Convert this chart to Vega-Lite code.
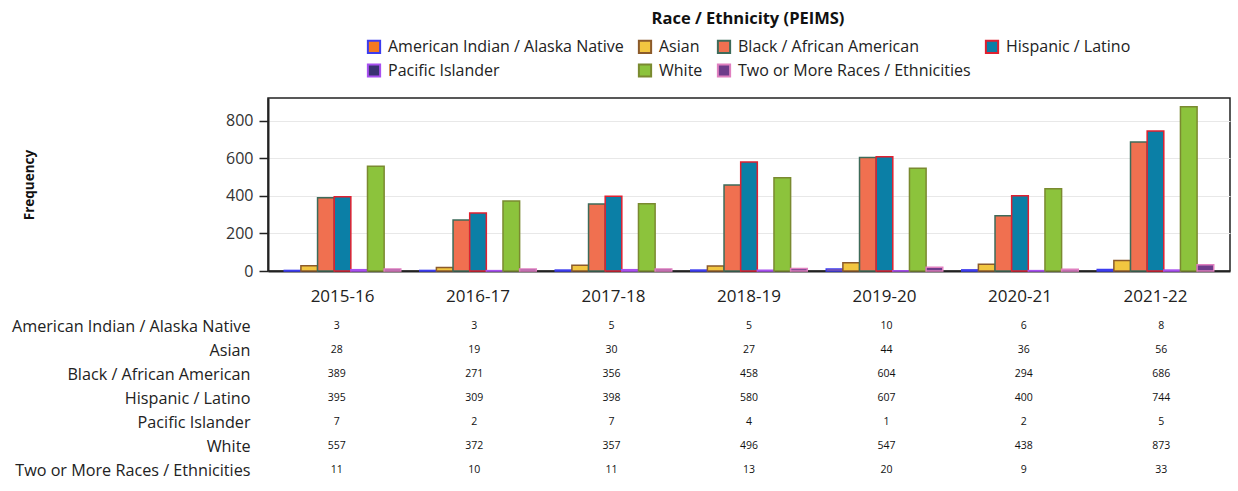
{
  "$schema": "https://vega.github.io/schema/vega-lite/v6.json",
  "padding": {"left": 11, "top": 11, "right": 6, "bottom": 5},
  "autosize": {"type": "pad"},
  "background": "white",
  "config": {
    "font": "Open Sans",
    "axis": {"labelFont": "Open Sans", "titleFont": "Open Sans"},
    "legend": {"labelFont": "Open Sans", "titleFont": "Open Sans"}
  },
  "data": {
    "values": [
      {"year": "2015-16", "race": "American Indian / Alaska Native", "value": 3},
      {"year": "2016-17", "race": "American Indian / Alaska Native", "value": 3},
      {"year": "2017-18", "race": "American Indian / Alaska Native", "value": 5},
      {"year": "2018-19", "race": "American Indian / Alaska Native", "value": 5},
      {"year": "2019-20", "race": "American Indian / Alaska Native", "value": 10},
      {"year": "2020-21", "race": "American Indian / Alaska Native", "value": 6},
      {"year": "2021-22", "race": "American Indian / Alaska Native", "value": 8},
      {"year": "2015-16", "race": "Asian", "value": 28},
      {"year": "2016-17", "race": "Asian", "value": 19},
      {"year": "2017-18", "race": "Asian", "value": 30},
      {"year": "2018-19", "race": "Asian", "value": 27},
      {"year": "2019-20", "race": "Asian", "value": 44},
      {"year": "2020-21", "race": "Asian", "value": 36},
      {"year": "2021-22", "race": "Asian", "value": 56},
      {"year": "2015-16", "race": "Black / African American", "value": 389},
      {"year": "2016-17", "race": "Black / African American", "value": 271},
      {"year": "2017-18", "race": "Black / African American", "value": 356},
      {"year": "2018-19", "race": "Black / African American", "value": 458},
      {"year": "2019-20", "race": "Black / African American", "value": 604},
      {"year": "2020-21", "race": "Black / African American", "value": 294},
      {"year": "2021-22", "race": "Black / African American", "value": 686},
      {"year": "2015-16", "race": "Hispanic / Latino", "value": 395},
      {"year": "2016-17", "race": "Hispanic / Latino", "value": 309},
      {"year": "2017-18", "race": "Hispanic / Latino", "value": 398},
      {"year": "2018-19", "race": "Hispanic / Latino", "value": 580},
      {"year": "2019-20", "race": "Hispanic / Latino", "value": 607},
      {"year": "2020-21", "race": "Hispanic / Latino", "value": 400},
      {"year": "2021-22", "race": "Hispanic / Latino", "value": 744},
      {"year": "2015-16", "race": "Pacific Islander", "value": 7},
      {"year": "2016-17", "race": "Pacific Islander", "value": 2},
      {"year": "2017-18", "race": "Pacific Islander", "value": 7},
      {"year": "2018-19", "race": "Pacific Islander", "value": 4},
      {"year": "2019-20", "race": "Pacific Islander", "value": 1},
      {"year": "2020-21", "race": "Pacific Islander", "value": 2},
      {"year": "2021-22", "race": "Pacific Islander", "value": 5},
      {"year": "2015-16", "race": "White", "value": 557},
      {"year": "2016-17", "race": "White", "value": 372},
      {"year": "2017-18", "race": "White", "value": 357},
      {"year": "2018-19", "race": "White", "value": 496},
      {"year": "2019-20", "race": "White", "value": 547},
      {"year": "2020-21", "race": "White", "value": 438},
      {"year": "2021-22", "race": "White", "value": 873},
      {"year": "2015-16", "race": "Two or More Races / Ethnicities", "value": 11},
      {"year": "2016-17", "race": "Two or More Races / Ethnicities", "value": 10},
      {"year": "2017-18", "race": "Two or More Races / Ethnicities", "value": 11},
      {"year": "2018-19", "race": "Two or More Races / Ethnicities", "value": 13},
      {"year": "2019-20", "race": "Two or More Races / Ethnicities", "value": 20},
      {"year": "2020-21", "race": "Two or More Races / Ethnicities", "value": 9},
      {"year": "2021-22", "race": "Two or More Races / Ethnicities", "value": 33}
    ]
  },
  "spacing": 9,
  "resolve": {"scale": {"x": "independent", "y": "independent"}},
  "vconcat": [
    {
      "width": 962,
      "height": 173,
      "view": {"stroke": "#222222", "strokeWidth": 1.5},
      "mark": {"type": "bar", "strokeWidth": 1.5},
      "encoding": {
        "x": {
          "field": "year",
          "type": "nominal",
          "scale": {"paddingInner": 0.14, "paddingOuter": 0.12},
          "axis": {"title": null, "labelAngle": 0, "ticks": false, "domain": true, "domainColor": "#222222", "domainWidth": 2, "labelFontSize": 17, "labelPadding": 17, "labelColor": "#222222"}
        },
        "xOffset": {
          "field": "race",
          "type": "nominal",
          "sort": ["American Indian / Alaska Native", "Asian", "Black / African American", "Hispanic / Latino", "Pacific Islander", "White", "Two or More Races / Ethnicities"],
          "scale": {"paddingInner": 0, "paddingOuter": 0}
        },
        "y": {
          "field": "value",
          "type": "quantitative",
          "scale": {"domain": [0, 920], "nice": false},
          "axis": {"title": "Frequency", "values": [0, 200, 400, 600, 800], "titleFontSize": 13.5, "titleFontWeight": "bold", "titleColor": "#111111", "titlePadding": 189, "labelFontSize": 16, "labelColor": "#333333", "labelPadding": 6, "tickColor": "#222222", "tickSize": 9, "tickWidth": 1.5, "domainColor": "#222222", "domainWidth": 2, "gridColor": "#e8e8e8", "gridWidth": 1}
        },
        "fill": {
          "field": "race",
          "type": "nominal",
          "scale": {
            "domain": ["American Indian / Alaska Native", "Asian", "Black / African American", "Hispanic / Latino", "Pacific Islander", "White", "Two or More Races / Ethnicities"],
            "range": ["#f47920", "#f2c640", "#f07050", "#0b7fa6", "#3a3272", "#8cc33c", "#6e3c8a"]
          },
          "legend": {"title": "Race / Ethnicity (PEIMS)", "orient": "none", "legendX": 98, "legendY": -87, "direction": "horizontal", "columns": 4, "symbolType": "square", "symbolSize": 150, "symbolStrokeWidth": 2, "labelFontSize": 16, "labelColor": "#222222", "titleFontSize": 16.5, "titleFontWeight": "bold", "titleColor": "#111111", "titleAnchor": "middle", "titleLimit": 500, "titlePadding": 11, "rowPadding": 2, "columnPadding": 10, "labelOffset": 6, "labelLimit": 400}
        },
        "stroke": {
          "field": "race",
          "type": "nominal",
          "scale": {
            "domain": ["American Indian / Alaska Native", "Asian", "Black / African American", "Hispanic / Latino", "Pacific Islander", "White", "Two or More Races / Ethnicities"],
            "range": ["#3c3cf0", "#8b5a2b", "#3d6b5a", "#e02030", "#a850f0", "#7a8a30", "#e080c0"]
          },
          "legend": {"title": "Race / Ethnicity (PEIMS)", "orient": "none", "legendX": 98, "legendY": -87, "direction": "horizontal", "columns": 4, "symbolType": "square", "symbolSize": 150, "symbolStrokeWidth": 2, "labelFontSize": 16, "labelColor": "#222222", "titleFontSize": 16.5, "titleFontWeight": "bold", "titleColor": "#111111", "titleAnchor": "middle", "titleLimit": 500, "titlePadding": 11, "rowPadding": 2, "columnPadding": 10, "labelOffset": 6, "labelLimit": 400}
        }
      }
    },
    {
      "width": 962,
      "height": 168,
      "view": {"stroke": null},
      "mark": {"type": "text", "fontSize": 10.5, "color": "#111111"},
      "encoding": {
        "x": {"field": "year", "type": "nominal", "scale": {"paddingInner": 0.14, "paddingOuter": 0.12}, "axis": null},
        "y": {
          "field": "race",
          "type": "nominal",
          "sort": ["American Indian / Alaska Native", "Asian", "Black / African American", "Hispanic / Latino", "Pacific Islander", "White", "Two or More Races / Ethnicities"],
          "axis": {"title": null, "domain": false, "ticks": false, "labelFontSize": 16.2, "labelPadding": 18, "labelColor": "#222222", "labelLimit": 400}
        },
        "text": {"field": "value", "type": "quantitative"}
      }
    }
  ]
}
